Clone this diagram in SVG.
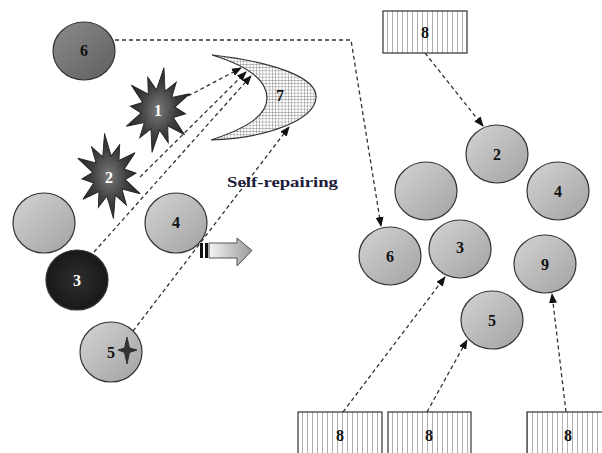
<svg xmlns="http://www.w3.org/2000/svg" width="602" height="453" viewBox="0 0 602 453">
<style>
.c{stroke:#333;stroke-width:1.2;fill:url(#gGray)}
.lbl{font-family:"Liberation Serif",serif;font-weight:bold;font-size:16px;text-anchor:middle;fill:#111}
.wl{fill:#fff}
.dash{fill:none;stroke:#333;stroke-width:1.3;stroke-dasharray:4,3}
.box{fill:url(#stripes);stroke:#333;stroke-width:1.2}
.star{stroke:#222;stroke-width:1;fill:url(#gStar)}
</style>
<defs>
<linearGradient id="gGray" x1="0" y1="0" x2="1" y2="1">
<stop offset="0" stop-color="#d4d4d4"/>
<stop offset="1" stop-color="#a2a2a2"/>
</linearGradient>
<linearGradient id="gDark" x1="0" y1="0" x2="1" y2="1">
<stop offset="0" stop-color="#8c8c8c"/>
<stop offset="1" stop-color="#5e5e5e"/>
</linearGradient>
<radialGradient id="gBlack" cx="0.5" cy="0.5" r="0.6">
<stop offset="0" stop-color="#2e2e2e"/>
<stop offset="1" stop-color="#141414"/>
</radialGradient>
<radialGradient id="gStar" cx="0.5" cy="0.5" r="0.5">
<stop offset="0" stop-color="#7a7a7a"/>
<stop offset="0.6" stop-color="#3e3e3e"/>
<stop offset="1" stop-color="#2a2a2a"/>
</radialGradient>
<linearGradient id="gArrow" x1="0" y1="0" x2="1" y2="0">
<stop offset="0" stop-color="#f4f4f4"/>
<stop offset="1" stop-color="#9a9a9a"/>
</linearGradient>
<pattern id="stripes" patternUnits="userSpaceOnUse" width="5" height="10">
<rect width="5" height="10" fill="#fff"/>
<line x1="2.5" y1="0" x2="2.5" y2="10" stroke="#9a9a9a" stroke-width="0.8"/>
</pattern>
<pattern id="grid" patternUnits="userSpaceOnUse" width="3.2" height="3.2">
<rect width="3.2" height="3.2" fill="#fff"/>
<path d="M0,0H3.2M0,0V3.2" stroke="#707070" stroke-width="0.8"/>
</pattern>
<marker id="ah" markerWidth="10" markerHeight="8" refX="9" refY="4" orient="auto" markerUnits="userSpaceOnUse">
<path d="M0,0L10,4L0,8Z" fill="#111"/>
</marker>
<polygon id="starShape" points="0,-42 5.2,-19.3 17,-29.4 14.1,-14.1 34.6,-20 19.3,-5.2 33,0 19.3,5.2 35.5,20.5 14.1,14.1 17.5,30.3 5.2,19.3 0,42 -5.2,19.3 -17,29.4 -14.1,14.1 -34.6,20 -19.3,5.2 -33,0 -19.3,-5.2 -35.5,-20.5 -14.1,-14.1 -17.5,-30.3 -5.2,-19.3"/>
</defs>
<rect width="602" height="453" fill="#fff"/>

<g id="connectors">
<path class="dash" d="M115,40 L351,40 L381,226" marker-end="url(#ah)"/>
<path class="dash" d="M188,96 L241,68" marker-end="url(#ah)"/>
<path class="dash" d="M140,177 L246,72" marker-end="url(#ah)"/>
<path class="dash" d="M94,252 L251,76" marker-end="url(#ah)"/>
<path class="dash" d="M133,331 L289,127" marker-end="url(#ah)"/>
<path class="dash" d="M425,53 L483,126" marker-end="url(#ah)"/>
<path class="dash" d="M343,412 L445,277" marker-end="url(#ah)"/>
<path class="dash" d="M427,412 L467,340" marker-end="url(#ah)"/>
<path class="dash" d="M566,412 L552,294" marker-end="url(#ah)"/>
</g>

<g id="n7">
<path d="M212,55 C275,62 318,78 316,98 C314,120 268,138 211,140 C248,128 267,115 267,98 C267,80 248,66 212,55 Z" fill="url(#grid)" stroke="#333" stroke-width="1.2"/>
<text class="lbl" x="280" y="101">7</text>
</g>

<g id="n6-left">
<ellipse cx="84" cy="51" rx="31" ry="29" fill="url(#gDark)" stroke="#333" stroke-width="1.2"/>
<text class="lbl" x="84" y="56">6</text>
</g>
<g id="n1-star">
<use href="#starShape" class="star" transform="translate(158,110) rotate(8) scale(0.84,1.02)"/>
<text class="lbl wl" x="158" y="116">1</text>
</g>
<g id="n2-star">
<use href="#starShape" class="star" transform="translate(109,176) rotate(-6) scale(0.82,1.02)"/>
<text class="lbl wl" x="109" y="183">2</text>
</g>
<g id="n-blank-left">
<ellipse class="c" cx="44" cy="223" rx="31" ry="30"/>
</g>
<g id="n4-left">
<ellipse class="c" cx="176" cy="223" rx="31" ry="30"/>
<text class="lbl" x="176" y="228">4</text>
</g>
<g id="n3-left">
<ellipse cx="77" cy="280" rx="31" ry="30" fill="url(#gBlack)" stroke="#333" stroke-width="1.2"/>
<text class="lbl wl" x="77" y="286">3</text>
</g>
<g id="n5-left">
<ellipse class="c" cx="111" cy="352" rx="31" ry="30"/>
<text class="lbl" x="111" y="358">5</text>
<path d="M127,337 L129.5,348 L137,350 L129.5,352.5 L127,364 L124.5,352.5 L118,350 L124.5,348 Z" fill="#333" stroke="#222" stroke-width="0.8"/>
</g>

<g id="block-arrow">
<rect x="200" y="243" width="3" height="15" fill="#111"/>
<rect x="205" y="243" width="3" height="15" fill="#111"/>
<path d="M209,243 H237 V238 L252,250.5 L237,266 V258 H209 Z" fill="url(#gArrow)" stroke="#555" stroke-width="1"/>
</g>
<text x="227" y="187" font-family="'Liberation Serif', serif" font-weight="bold" font-size="15" fill="#1c1c3c" textLength="111" lengthAdjust="spacingAndGlyphs">Self-repairing</text>

<g id="n8-top">
<rect class="box" x="383" y="11" width="84" height="42"/>
<text class="lbl" x="425" y="38">8</text>
</g>
<g id="n2-right">
<ellipse class="c" cx="497" cy="154" rx="31" ry="29"/>
<text class="lbl" x="497" y="160">2</text>
</g>
<g id="n-blank-right">
<ellipse class="c" cx="426" cy="191" rx="31" ry="29"/>
</g>
<g id="n4-right">
<ellipse class="c" cx="558" cy="191" rx="31" ry="29"/>
<text class="lbl" x="558" y="197">4</text>
</g>
<g id="n6-right">
<ellipse class="c" cx="390" cy="256" rx="31" ry="29"/>
<text class="lbl" x="390" y="262">6</text>
</g>
<g id="n3-right">
<ellipse class="c" cx="460" cy="249" rx="31" ry="29"/>
<text class="lbl" x="460" y="253">3</text>
</g>
<g id="n9-right">
<ellipse class="c" cx="545" cy="264" rx="31" ry="29"/>
<text class="lbl" x="545" y="270">9</text>
</g>
<g id="n5-right">
<ellipse class="c" cx="492" cy="320" rx="31" ry="29"/>
<text class="lbl" x="492" y="326">5</text>
</g>
<g id="n8-b1">
<rect class="box" x="298" y="412" width="84" height="50"/>
<text class="lbl" x="340" y="441">8</text>
</g>
<g id="n8-b2">
<rect class="box" x="388" y="412" width="83" height="50"/>
<text class="lbl" x="429" y="441">8</text>
</g>
<g id="n8-b3">
<rect class="box" x="527" y="412" width="84" height="50"/>
<text class="lbl" x="568" y="441">8</text>
</g>
</svg>
